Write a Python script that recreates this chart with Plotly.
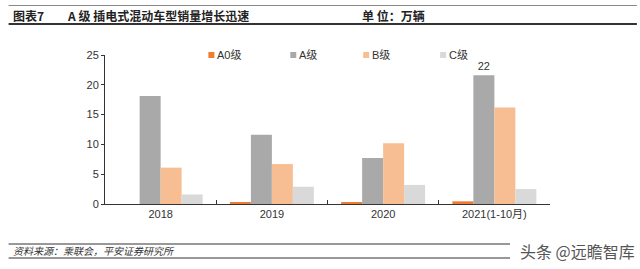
import plotly.graph_objects as go

categories = ["2018", "2019", "2020", "2021(1-10月)"]
series_names = ["A0级", "A级", "B级", "C级"]
a0_vals = [0.0, 0.3, 0.3, 0.45]
a_vals = [18.1, 11.6, 7.7, 21.6]
b_vals = [6.1, 6.7, 10.2, 16.2]
c_vals = [1.6, 2.9, 3.2, 2.5]
a_labels = ["", "", "", "22"]
colors = ["#ED7D31", "#A9A9A9", "#F7BE93", "#D9D9D9"]

FONT = "Liberation Sans, Arial, Noto Sans CJK SC, sans-serif"
CJK = "Noto Sans CJK SC, Liberation Sans, sans-serif"

fig = go.Figure()
for name, vals, col in zip(series_names, [a0_vals, a_vals, b_vals, c_vals], colors):
    kw = {}
    if name == "A级":
        kw = dict(text=a_labels, textposition="outside", cliponaxis=False,
                  textfont=dict(size=11, color="#333333", family=FONT))
    fig.add_trace(go.Bar(x=categories, y=vals, name=name, marker=dict(color=col, line=dict(width=0)),
                         showlegend=False, **kw))

# plot-area pixel geometry
L, R, T, B = 104.5, 550.0, 55.0, 204.0
W, H = R - L, B - T
def px(x):
    return (x - L) / W
def py(y):
    return (B - y) / H

# legend drawn manually
leg_x = [208, 290, 363, 440]
for name, col, lx in zip(series_names, colors, leg_x):
    fig.add_shape(type="rect", xref="paper", yref="paper",
                  x0=px(lx), x1=px(lx + 6), y0=py(58), y1=py(52),
                  fillcolor=col, line=dict(width=0), layer="above")
    fig.add_annotation(xref="paper", yref="paper", x=px(lx + 6.5), y=py(55), text=name,
                       showarrow=False, xanchor="left", yanchor="middle",
                       font=dict(size=11, color="#333333", family=FONT))

# header lines and text
fig.add_shape(type="line", xref="paper", yref="paper", x0=px(8), x1=px(637), y0=py(5.5), y1=py(5.5),
              line=dict(color="#888888", width=1))
fig.add_shape(type="line", xref="paper", yref="paper", x0=px(8), x1=px(637), y0=py(24), y1=py(24),
              line=dict(color="#333333", width=2))
fig.add_annotation(xref="paper", yref="paper", x=px(10), y=py(15.5), text="<b>图表7</b>",
                   showarrow=False, xanchor="left", yanchor="middle",
                   font=dict(size=12, color="#222222", family=CJK))
fig.add_annotation(xref="paper", yref="paper", x=px(64), y=py(15.5), text="<b>A 级 插电式混动车型销量增长迅速</b>",
                   showarrow=False, xanchor="left", yanchor="middle",
                   font=dict(size=12, color="#222222", family=CJK))
fig.add_annotation(xref="paper", yref="paper", x=px(360), y=py(15.5), text="<b>单 位：万辆</b>",
                   showarrow=False, xanchor="left", yanchor="middle",
                   font=dict(size=12, color="#222222", family=CJK))

# footer
fig.add_shape(type="line", xref="paper", yref="paper", x0=px(8), x1=px(637), y0=py(244), y1=py(244),
              line=dict(color="#333333", width=1))
fig.add_shape(type="line", xref="paper", yref="paper", x0=px(8), x1=px(637), y0=py(258), y1=py(258),
              line=dict(color="#333333", width=1))
fig.add_annotation(xref="paper", yref="paper", x=px(10), y=py(251), text="<i>资料来源：乘联会，平安证券研究所</i>",
                   showarrow=False, xanchor="left", yanchor="middle",
                   font=dict(size=10, color="#333333", family=CJK))
fig.add_shape(type="rect", xref="paper", yref="paper", x0=px(510), x1=px(638), y0=py(241), y1=py(261),
              fillcolor="white", line=dict(width=0), layer="above")
fig.add_annotation(xref="paper", yref="paper", x=px(637), y=py(251), text="头条 @远瞻智库",
                   showarrow=False, xanchor="right", yanchor="middle",
                   font=dict(size=16, color="#555555", family=CJK))

fig.update_layout(
    width=640, height=269,
    margin=dict(l=L, r=640 - R, t=T, b=269 - B, pad=0),
    paper_bgcolor="white", plot_bgcolor="white",
    barmode="group", bargap=0.245, bargroupgap=0,
    font=dict(family=FONT, size=11, color="#333333"),
    xaxis=dict(showline=True, linecolor="#333333", linewidth=1, ticks="inside", ticklen=4,
               tickcolor="#333333", tickson="boundaries", showgrid=False,
               tickfont=dict(size=11, color="#333333")),
    yaxis=dict(range=[0, 25], dtick=5, showline=True, linecolor="#333333", linewidth=1,
               ticks="outside", ticklen=3, tickcolor="#333333", showgrid=False, zeroline=False,
               tickfont=dict(size=11, color="#333333")),
)

fig.write_html("out.html")
